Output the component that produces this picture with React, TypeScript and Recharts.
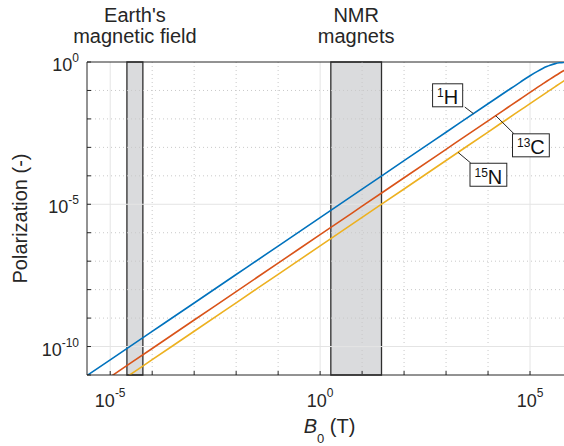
import { LineChart, Line, XAxis, YAxis, ReferenceLine, ReferenceArea, ReferenceDot } from 'recharts'

// B0 in tesla and the polarization
const bField = [1e-6, 1e-5, 1e-4, 1e-3, 1e-2, 1e-1, 1, 10, 100, 1e3, 1e4, 3e4, 6e4, 1e5, 1.5e5, 2e5, 2.5e5, 3e5, 4e5, 5e5, 6.3e5, 8e5, 1e6]
const polH = [3.4e-12, 3.4e-11, 3.4e-10, 3.4e-9, 3.4e-8, 3.4e-7, 3.4e-6, 3.4e-5, 3.4e-4, 3.4e-3, 0.034, 0.1016, 0.2012, 0.3275, 0.4699, 0.5915, 0.6911, 0.7699, 0.8765, 0.9354, 0.9728, 0.9913, 0.9978]
const polC = [8.55e-13, 8.55e-12, 8.55e-11, 8.55e-10, 8.55e-9, 8.55e-8, 8.55e-7, 8.55e-6, 8.55e-5, 8.55e-4, 0.00855, 0.02564, 0.05126, 0.08529, 0.1276, 0.1693, 0.2106, 0.251, 0.3293, 0.4032, 0.492, 0.5941, 0.6935]
const polN = [3.45e-13, 3.45e-12, 3.45e-11, 3.45e-10, 3.45e-9, 3.45e-8, 3.45e-7, 3.45e-6, 3.45e-5, 3.45e-4, 0.00345, 0.01035, 0.0207, 0.03449, 0.0517, 0.06889, 0.08604, 0.1031, 0.1371, 0.1708, 0.214, 0.2692, 0.332]

// shaded field ranges
const bandTitles = [["Earth's", 'magnetic field'], ['NMR', 'magnets']]
const bandLow = [2.5e-5, 1.8]
const bandHigh = [6e-5, 29]

// boxed isotope labels and their leader lines
const isoMass = ['1', '13', '15']
const isoSymbol = ['H', 'C', 'N']
const isoBoxB = [1.09e3, 1.05e5, 1.02e4]
const isoBoxP = [0.0676, 1.18e-3, 1.09e-4]
const leaderCurveB = [4.5e3, 1.52e4, 1.93e3]
const leaderCurveP = [0.0153, 0.013, 6.66e-4]
const leaderBoxB = [2.79e3, 4.2e4, 3.87e3]
const leaderBoxP = [0.0262, 2.95e-3, 2.82e-4]

// axes
const xDecades = [1e-5, 1e-4, 1e-3, 1e-2, 1e-1, 1, 10, 100, 1e3, 1e4, 1e5]
const yDecades = [1e-11, 1e-10, 1e-9, 1e-8, 1e-7, 1e-6, 1e-5, 1e-4, 1e-3, 1e-2, 1e-1, 1]
const xLabeled = [1e-5, 1, 1e5]
const yLabeled = [1e-10, 1e-5, 1]

const AXIS = '#262626'
const FONT = '"Liberation Sans", Arial, Helvetica, sans-serif'

const data = bField.map((b, i) => ({ b, h: polH[i], c: polC[i], n: polN[i] }))

const exp10 = (v: number) => Math.round(Math.log10(v))

function XTick({ x, y, payload }: any) {
  if (!xLabeled.includes(payload.value)) return <g />
  return (
    <text x={x} y={y + 36} textAnchor="middle" fill={AXIS} fontSize={18}>
      10<tspan fontSize={12} dy={-10}>{exp10(payload.value)}</tspan>
    </text>
  )
}

function YTick({ x, y, payload }: any) {
  if (!yLabeled.includes(payload.value)) return <g />
  return (
    <text x={x - 12} y={y + 9} textAnchor="end" fill={AXIS} fontSize={18}>
      10<tspan fontSize={12} dy={-9}>{exp10(payload.value)}</tspan>
    </text>
  )
}

function BandTitle({ viewBox, lines }: any) {
  const cx = viewBox.x + viewBox.width / 2
  return (
    <text textAnchor="middle" fill={AXIS} fontSize={20}>
      <tspan x={cx} y={viewBox.y - 40}>{lines[0]}</tspan>
      <tspan x={cx} y={viewBox.y - 19}>{lines[1]}</tspan>
    </text>
  )
}

function IsoBox({ cx, cy, mass, sym }: any) {
  const w = mass.length * 6.7 + 14.4 + 9
  const h = 23
  return (
    <g>
      <rect x={cx - w / 2} y={cy - h / 2} width={w} height={h} fill="#fff" stroke={AXIS} strokeWidth={1} />
      <text x={cx} y={cy + 9} textAnchor="middle" fill="#111" fontSize={20}>
        <tspan fontSize={12} dy={-7}>{mass}</tspan>
        <tspan dy={7}>{sym}</tspan>
      </text>
    </g>
  )
}

export default function App() {
  return (
    <div style={{ position: 'absolute', left: 0, top: 0, width: 564, height: 446, overflow: 'hidden', background: '#fff', fontFamily: FONT }}>
      <LineChart width={572} height={446} data={data} margin={{ top: 62, right: 0, bottom: 0, left: 0 }}>
        <XAxis
          dataKey="b"
          type="number"
          scale="log"
          domain={[2.8e-6, 1e6]}
          allowDataOverflow
          ticks={xDecades}
          interval={0}
          height={71}
          tickSize={-4}
          tickMargin={0}
          stroke={AXIS}
          tick={(p: any) => <XTick {...p} />}
          label={(p: any) => {
            const vb = p.viewBox
            const cx = vb.x + vb.width / 2
            return (
              <text x={cx} y={vb.y + 58} textAnchor="middle" fill={AXIS} fontSize={20}>
                <tspan fontStyle="italic">B</tspan>
                <tspan fontSize={13} dy={10}>0</tspan>
                <tspan dy={-10}> (T)</tspan>
              </text>
            )
          }}
        />
        <XAxis
          xAxisId="top"
          orientation="top"
          dataKey="b"
          type="number"
          scale="log"
          domain={[2.8e-6, 1e6]}
          allowDataOverflow
          ticks={xDecades}
          interval={0}
          height={0}
          tickSize={-4}
          tick={false}
          stroke={AXIS}
        />
        <YAxis
          type="number"
          scale="log"
          domain={[1e-11, 1]}
          allowDataOverflow
          ticks={yDecades}
          interval={0}
          width={87}
          tickSize={-4}
          tickMargin={0}
          stroke={AXIS}
          tick={(p: any) => <YTick {...p} />}
          label={(p: any) => {
            const vb = p.viewBox
            const cy = vb.y + vb.height / 2
            return (
              <text transform={`translate(27,${cy}) rotate(-90)`} textAnchor="middle" fill={AXIS} fontSize={20}>
                Polarization (-)
              </text>
            )
          }}
        />

        {bandLow.map((lo, i) => (
          <ReferenceArea
            key={'band' + i}
            x1={lo}
            x2={bandHigh[i]}
            fill="#dadbdd"
            fillOpacity={1}
            stroke="#2e2e2e"
            strokeWidth={1.3}
            label={(p: any) => <BandTitle viewBox={p.viewBox} lines={bandTitles[i]} />}
          />
        ))}

        {xDecades.map(v => (
          <ReferenceLine
            key={'gx' + v}
            x={v}
            stroke={xLabeled.includes(v) ? '#e4e4e4' : '#c9c9c9'}
            strokeWidth={1}
            strokeDasharray={xLabeled.includes(v) ? undefined : '1 3'}
          />
        ))}
        {yDecades.slice(1, -1).map(v => (
          <ReferenceLine
            key={'gy' + v}
            y={v}
            stroke={yLabeled.includes(v) ? '#e4e4e4' : '#c9c9c9'}
            strokeWidth={1}
            strokeDasharray={yLabeled.includes(v) ? undefined : '1 3'}
          />
        ))}
        <ReferenceLine y={1} stroke={AXIS} strokeWidth={1} />

        <Line dataKey="h" type="monotone" stroke="#0072BD" strokeWidth={1.6} dot={false} isAnimationActive={false} />
        <Line dataKey="c" type="monotone" stroke="#D95319" strokeWidth={1.6} dot={false} isAnimationActive={false} />
        <Line dataKey="n" type="monotone" stroke="#EDB120" strokeWidth={1.6} dot={false} isAnimationActive={false} />

        {isoMass.map((m, i) => (
          <ReferenceLine
            key={'lead' + i}
            segment={[{ x: leaderCurveB[i], y: leaderCurveP[i] }, { x: leaderBoxB[i], y: leaderBoxP[i] }]}
            stroke={AXIS}
            strokeWidth={1}
          />
        ))}
        {isoMass.map((m, i) => (
          <ReferenceDot
            key={'iso' + i}
            x={isoBoxB[i]}
            y={isoBoxP[i]}
            shape={(p: any) => <IsoBox cx={p.cx} cy={p.cy} mass={m} sym={isoSymbol[i]} />}
          />
        ))}
      </LineChart>
    </div>
  )
}
